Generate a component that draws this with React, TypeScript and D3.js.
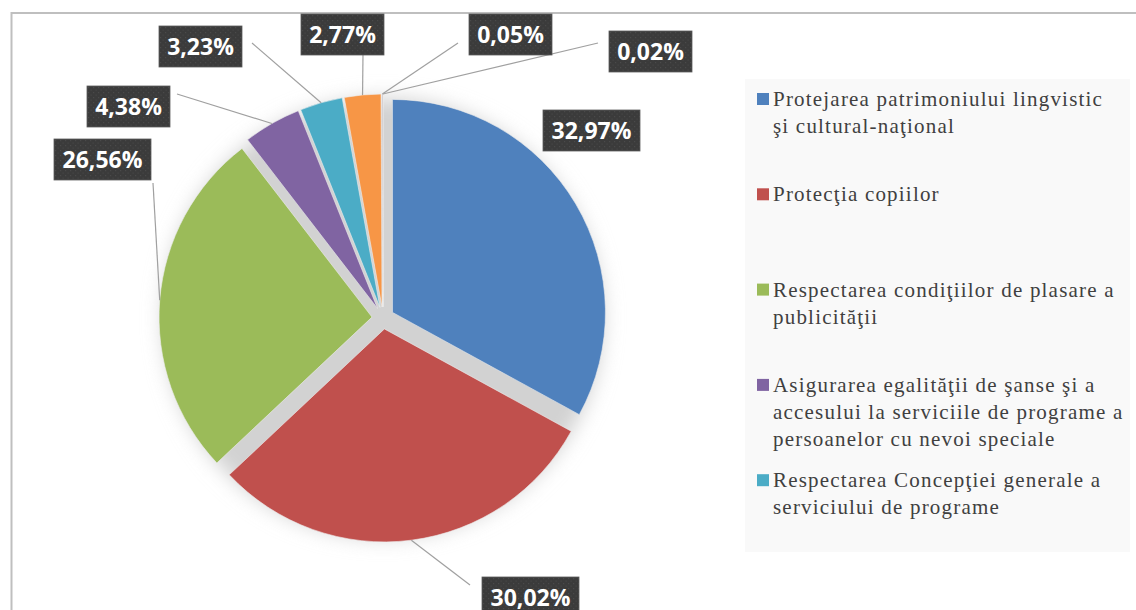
import React from "react";
import * as d3 from "d3";

const categories = [
  "Protejarea patrimoniului lingvistic şi cultural-naţional",
  "Protecţia copiilor",
  "Respectarea condiţiilor de plasare a publicităţii",
  "Asigurarea egalităţii de şanse şi a accesului la serviciile de programe a persoanelor cu nevoi speciale",
  "Respectarea Concepţiei generale a serviciului de programe",
  "Categoria 6",
  "Categoria 7",
  "Categoria 8",
];
const values = [32.97, 30.02, 26.56, 4.38, 3.23, 2.77, 0.05, 0.02];
const valueLabels = ["32,97%", "30,02%", "26,56%", "4,38%", "3,23%", "2,77%", "0,05%", "0,02%"];
const colors = ["#4f81bd", "#c0504d", "#9bbb59", "#8064a2", "#4bacc6", "#f79646", "#2c4d75", "#772c2a"];

// legend text lines (as wrapped in the original legend)
const legendLines = [
  ["Protejarea patrimoniului lingvistic", "şi cultural-naţional"],
  ["Protecţia copiilor"],
  ["Respectarea condiţiilor de plasare a", "publicităţii"],
  ["Asigurarea egalităţii de şanse şi a", "accesului la serviciile de programe a", "persoanelor cu nevoi speciale"],
  ["Respectarea Concepţiei generale a", "serviciului de programe"],
];

// label box layout (top-left), and leader line end points
const labelLayout = [
  { x: 543, y: 110, lx: null, ly: null },
  { x: 482, y: 577, lx: 470, ly: 585 },
  { x: 54, y: 139, lx: 153, ly: 183 },
  { x: 87, y: 86, lx: 177, ly: 94 },
  { x: 159, y: 26, lx: 252, ly: 43 },
  { x: 301, y: 14, lx: 363, ly: 54 },
  { x: 469, y: 14, lx: 458, ly: 43 },
  { x: 609, y: 31, lx: 598, ly: 43 },
];

const W = 1136;
const H = 610;
const cx = 383;
const cy = 318;
const R = 213;
const explode = 11;

export default function App() {
  const pie = d3
    .pie<number>()
    .sort(null)
    .value((d) => d)
    .startAngle(0)
    .endAngle(2 * Math.PI);
  const arcs = pie(values);
  const arc = d3.arc<d3.PieArcDatum<number>>().innerRadius(0).outerRadius(R);

  const mid = (a: d3.PieArcDatum<number>) => (a.startAngle + a.endAngle) / 2;

  return (
    <svg
      width={W}
      height={H}
      style={{ position: "absolute", left: 0, top: 0, display: "block", background: "#fff" }}
    >
      <defs>
        <filter id="blur" x="-50%" y="-50%" width="200%" height="200%">
          <feGaussianBlur stdDeviation="10" />
        </filter>
        <pattern id="dots" width="5" height="5" patternUnits="userSpaceOnUse">
          <rect width="5" height="5" fill="#3b3b3b" />
          <rect x="1" y="1" width="1.2" height="1.2" fill="#4a4a4a" />
          <rect x="3.5" y="3.5" width="1.2" height="1.2" fill="#474747" />
        </pattern>
      </defs>

      {/* chart frame */}
      <rect x={11.5} y={13} width={W} height={H} fill="#fff" stroke="#bfbfbf" strokeWidth={2} />

      {/* legend background */}
      <rect x={745} y={79} width={385} height={473} fill="#f9f9f9" />

      {/* pie shadow */}
      <circle cx={cx} cy={cy} r={R + 7} fill="#d2d2d2" filter="url(#blur)" />

      {/* slices */}
      <g>
        {arcs.map((a, i) => {
          const m = mid(a);
          const dx = Math.sin(m) * explode;
          const dy = -Math.cos(m) * explode;
          return (
            <path
              key={i}
              d={arc(a) || ""}
              transform={`translate(${cx + dx},${cy + dy})`}
              fill={colors[i]}
              stroke="#eeeeee"
              strokeWidth={0.6}
            />
          );
        })}
      </g>

      {/* leader lines */}
      <g>
        {arcs.map((a, i) => {
          const L = labelLayout[i];
          if (L.lx == null || L.ly == null) return null;
          const m = mid(a);
          const sx = cx + Math.sin(m) * (R + explode);
          const sy = cy - Math.cos(m) * (R + explode);
          return (
            <line key={i} x1={sx} y1={sy} x2={L.lx} y2={L.ly} stroke="#a0a0a0" strokeWidth={1.2} />
          );
        })}
      </g>

      {/* labels */}
      <g>
        {valueLabels.map((t, i) => {
          const L = labelLayout[i];
          const w = t.length > 5 ? 97 : 83;
          const h = 41;
          return (
            <g key={i} transform={`translate(${L.x},${L.y})`}>
              <rect width={w} height={h} fill="url(#dots)" stroke="#5c5c5c" strokeWidth={0.8} />
              <text
                x={w / 2}
                y={h / 2 + 8}
                textAnchor="middle"
                fill="#ffffff"
                fontFamily="'Open Sans', 'DejaVu Sans', sans-serif"
                fontWeight={700}
                fontSize={23}
              >
                {t}
              </text>
            </g>
          );
        })}
      </g>

      {/* legend */}
      <g
        fontFamily="'Liberation Serif', 'Times New Roman', serif"
        fontSize={21}
        fill="#404040"
        letterSpacing={1.2}
      >
        {legendLines.map((lines, i) => {
          const y0 = 106 + i * 95.3;
          return (
            <g key={i}>
              <rect x={757} y={y0 - 13} width={12} height={12} fill={colors[i]} />
              {lines.map((ln, j) => (
                <text key={j} x={773} y={y0 + j * 27}>
                  {ln}
                </text>
              ))}
            </g>
          );
        })}
      </g>
    </svg>
  );
}
